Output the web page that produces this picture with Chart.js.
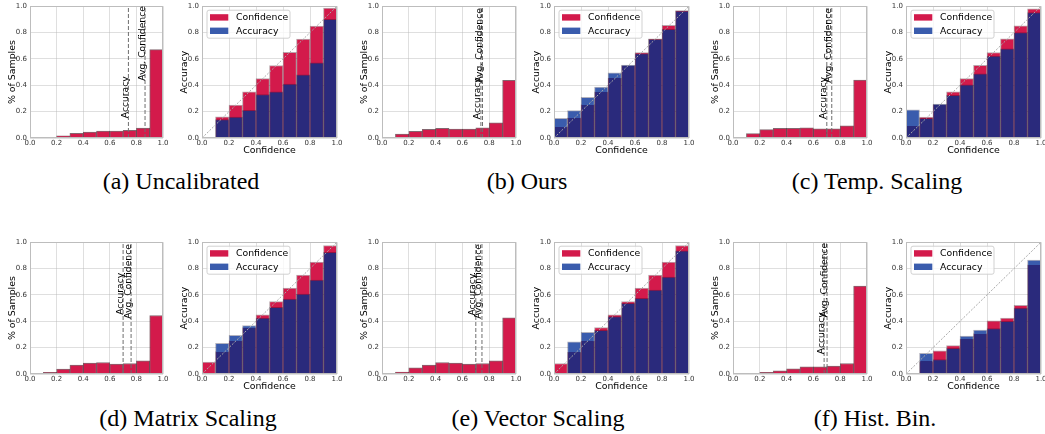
<!DOCTYPE html>
<html><head><meta charset="utf-8">
<script src="https://cdn.jsdelivr.net/npm/chart.js@4.4.1/dist/chart.umd.min.js"></script>
<style>
html,body{margin:0;padding:0;background:#fff;}
body{width:1045px;height:434px;position:relative;overflow:hidden;}
.box{position:absolute;}
.box canvas{display:block;}
.cap{position:absolute;font-family:"Liberation Serif","DejaVu Serif",serif;font-size:24px;line-height:26px;color:#000;white-space:nowrap;transform:translate(-50%,-50%);}
</style></head><body>
<script>
// ---------------- data ----------------
const binCenters = [0.05,0.15,0.25,0.35,0.45,0.55,0.65,0.75,0.85,0.95];
const tickValues = [0,0.2,0.4,0.6,0.8,1.0];
const tickLabels = ['0.0','0.2','0.4','0.6','0.8','1.0'];
const seriesNames = ['Confidence','Accuracy'];
const captions = ['(a) Uncalibrated','(b) Ours','(c) Temp. Scaling','(d) Matrix Scaling','(e) Vector Scaling','(f) Hist. Bin.'];

// (a) Uncalibrated
const samplesUncal = [0.002,0.005,0.017,0.035,0.045,0.052,0.052,0.058,0.075,0.67];
const confUncal    = [null,0.16,0.25,0.35,0.45,0.55,0.65,0.75,0.85,0.985];
const accUncal     = [null,0.14,0.158,0.21,0.33,0.35,0.41,0.48,0.57,0.90];
const meanAccUncal = 0.74, meanConfUncal = 0.865;

// (b) Ours
const samplesOurs = [0.003,0.03,0.05,0.065,0.073,0.068,0.068,0.078,0.115,0.437];
const confOurs    = [0.083,0.153,0.253,0.35,0.454,0.55,0.649,0.752,0.855,0.967];
const accOurs     = [0.15,0.208,0.308,0.386,0.494,0.553,0.64,0.748,0.825,0.963];
const meanAccOurs = 0.738, meanConfOurs = 0.75;

// (c) Temp. Scaling
const samplesTemp = [0.003,0.033,0.063,0.073,0.073,0.078,0.07,0.07,0.093,0.44];
const confTemp    = [0.09,0.158,0.253,0.351,0.451,0.551,0.649,0.752,0.852,0.98];
const accTemp     = [0.213,0.15,0.258,0.323,0.403,0.486,0.622,0.677,0.8,0.952];
const meanAccTemp = 0.70, meanConfTemp = 0.737;

// (d) Matrix Scaling
const samplesMatrix = [0,0.012,0.037,0.067,0.082,0.087,0.075,0.08,0.1,0.444];
const confMatrix    = [0.09,0.17,0.254,0.352,0.449,0.549,0.651,0.751,0.85,0.975];
const accMatrix     = [null,0.232,0.294,0.367,0.424,0.506,0.569,0.606,0.713,0.923];
const meanAccMatrix = 0.70, meanConfMatrix = 0.76;

// (e) Vector Scaling
const samplesVector = [0.002,0.015,0.047,0.067,0.087,0.082,0.075,0.08,0.1,0.426];
const confVector    = [0.08,0.165,0.249,0.352,0.449,0.549,0.651,0.751,0.85,0.975];
const accVector     = [null,0.244,0.317,0.332,0.436,0.536,0.574,0.636,0.736,0.935];
const meanAccVector = 0.70, meanConfVector = 0.746;

// (f) Hist. Bin.
const samplesHist = [0,0.002,0.012,0.025,0.04,0.055,0.055,0.06,0.08,0.668];
const confHist    = [null,0.095,0.175,0.215,0.264,0.307,0.404,0.424,0.521,0.828];
const accHist     = [null,0.157,0.11,0.194,0.287,0.334,0.344,0.399,0.501,0.865];
const meanAccHist = 0.68, meanConfHist = 0.702;

// ---------------- styling / layout ----------------
const F = '"DejaVu Sans", sans-serif';
const RED = '#d31a4b';
const LIGHTBLUE = '#3a5cad';
const NAVY = '#2a2a7c';
const PL = 30, PT = 6, PR = 8, PB = 22;

function addCanvas(left, top, w, h){
  const div = document.createElement('div');
  div.className = 'box';
  const W = w + PL + PR, H = h + PT + PB;
  div.style.left = (left - PL) + 'px';
  div.style.top = (top - PT) + 'px';
  div.style.width = W + 'px';
  div.style.height = H + 'px';
  const c = document.createElement('canvas');
  c.width = W; c.height = H;
  c.style.width = W + 'px'; c.style.height = H + 'px';
  div.appendChild(c);
  document.body.appendChild(div);
  return c;
}

function axis(titleText, isX){
  return {
    type:'linear', min:0, max:1, offset:false, z:1,
    afterBuildTicks: s => { s.ticks = tickValues.map(v => ({value:v})); },
    afterFit: s => { if (isX) s.height = PB; else s.width = PL; },
    ticks:{callback:(v,i)=>tickLabels[i], autoSkip:false, maxRotation:0, minRotation:0,
           padding: isX ? 1 : 3, color:'#333', font:{family:F, size:7}},
    grid:{color:'rgba(185,185,185,0.45)', lineWidth:1, drawTicks:false, offset:false},
    border:{display:false},
    title:{display:!!titleText, text:titleText || '', color:'#000', font:{family:F, size:9.4},
           padding: isX ? {top:0, bottom:4} : {top:7, bottom:0}}
  };
}

const framePlugin = {
  id:'frame',
  afterDraw(chart){
    const {ctx, chartArea:a} = chart;
    ctx.save();
    ctx.strokeStyle = '#bdbdbd'; ctx.lineWidth = 1;
    ctx.strokeRect(Math.round(a.left)+0.5, Math.round(a.top)+0.5, Math.round(a.width)-1, Math.round(a.height)-1);
    ctx.restore();
  }
};

const vlabelPlugin = {
  id:'vlabels',
  afterDraw(chart, args, opts){
    if (!opts.items) return;
    const {ctx} = chart;
    ctx.save();
    ctx.font = '9.2px ' + F; ctx.fillStyle = '#000';
    ctx.textAlign = 'left'; ctx.textBaseline = 'alphabetic';
    opts.items.forEach(it => {
      const x = chart.scales.x.getPixelForValue(it.x);
      const y = chart.scales.y.getPixelForValue(it.y);
      ctx.save(); ctx.translate(x - 0.5, y); ctx.rotate(-Math.PI/2);
      ctx.fillText(it.text, 0, 0); ctx.restore();
    });
    ctx.restore();
  }
};

const legendPlugin = {
  id:'boxlegend',
  afterDraw(chart){
    const {ctx, chartArea:a} = chart;
    const ds = chart.data.datasets.filter(d => d.label);
    ctx.save();
    const bx = a.left + 5, by = a.top + 4, bw = 83, bh = 28, r = 2;
    ctx.beginPath();
    ctx.moveTo(bx + r, by); ctx.lineTo(bx + bw - r, by); ctx.quadraticCurveTo(bx+bw, by, bx+bw, by+r);
    ctx.lineTo(bx+bw, by+bh-r); ctx.quadraticCurveTo(bx+bw, by+bh, bx+bw-r, by+bh);
    ctx.lineTo(bx+r, by+bh); ctx.quadraticCurveTo(bx, by+bh, bx, by+bh-r);
    ctx.lineTo(bx, by+r); ctx.quadraticCurveTo(bx, by, bx+r, by);
    ctx.closePath();
    ctx.fillStyle = 'rgba(255,255,255,0.8)'; ctx.fill();
    ctx.strokeStyle = 'rgba(204,204,204,0.9)'; ctx.lineWidth = 1; ctx.stroke();
    ctx.font = '9.3px ' + F; ctx.textBaseline = 'middle'; ctx.textAlign = 'left';
    ds.forEach((d, i) => {
      const cy = a.top + 11.2 + i * 13.4;
      ctx.fillStyle = d.legendColor;
      ctx.fillRect(a.left + 8, cy - 3.2, 18.3, 6.4);
      ctx.fillStyle = '#000';
      ctx.fillText(d.label, a.left + 34, cy + 0.5);
    });
    ctx.restore();
  }
};

function baseOptions(yTitle, xTitle, extra){
  return {
    responsive:false, animation:false, events:[],
    layout:{padding:{top:PT, right:PR, left:0, bottom:0}},
    scales:{x:axis(xTitle, true), y:axis(yTitle, false)},
    plugins:Object.assign({legend:{display:false}, tooltip:{enabled:false}}, extra || {})
  };
}

function histChart(left, top, w, h, samples, meanAcc, meanConf, accY, confY){
  const c = addCanvas(left, top, w, h);
  new Chart(c, {
    type:'bar',
    data:{datasets:[
      {type:'bar', data:binCenters.map((x,i)=>({x, y:samples[i]})), backgroundColor:RED,
       borderColor:'rgba(50,0,15,0.6)', borderWidth:1, barPercentage:1, categoryPercentage:1, order:3},
      {type:'line', data:[{x:meanAcc,y:0},{x:meanAcc,y:1}], borderColor:'#6e6e6e', borderWidth:1,
       borderDash:[4,2], pointRadius:0, order:1},
      {type:'line', data:[{x:meanConf,y:0},{x:meanConf,y:1}], borderColor:'#6e6e6e', borderWidth:1,
       borderDash:[4,2], pointRadius:0, order:1}
    ]},
    options:baseOptions('% of Samples', '', {vlabels:{items:[
      {x:meanAcc, y:accY, text:'Accuracy'},
      {x:meanConf, y:confY, text:'Avg. Confidence'}
    ]}}),
    plugins:[framePlugin, vlabelPlugin]
  });
}

// accuracy bar colour: dark where it overlaps the confidence bar, lighter above it
function accColor(conf){
  return (ctx) => {
    const chart = ctx.chart, area = chart.chartArea;
    if (!area || ctx.type !== 'data') return LIGHTBLUE;
    const yS = chart.scales.y;
    const cv = conf[ctx.dataIndex] || 0;
    const y0 = yS.getPixelForValue(0), y1 = yS.getPixelForValue(1);
    const g = chart.ctx.createLinearGradient(0, y0, 0, y1);
    const t = Math.max(0, Math.min(1, cv));
    g.addColorStop(0, NAVY); g.addColorStop(t, NAVY);
    g.addColorStop(t, LIGHTBLUE); g.addColorStop(1, LIGHTBLUE);
    return g;
  };
}

function relChart(left, top, w, h, conf, acc){
  const c = addCanvas(left, top, w, h);
  new Chart(c, {
    type:'bar',
    data:{datasets:[
      {type:'bar', label:seriesNames[0], legendColor:RED, data:binCenters.map((x,i)=>({x, y:conf[i]})), backgroundColor:RED,
       borderColor:'rgba(60,0,20,0.35)', borderWidth:1, grouped:false, barPercentage:1, categoryPercentage:1, order:3},
      {type:'bar', label:seriesNames[1], legendColor:LIGHTBLUE, data:binCenters.map((x,i)=>({x, y:acc[i]})), backgroundColor:accColor(conf),
       borderColor:'rgba(0,0,40,0.3)', borderWidth:1, grouped:false, barPercentage:1, categoryPercentage:1, order:2},
      {type:'line', data:[{x:0,y:0},{x:1,y:1}], borderColor:'#a9a9a9', borderWidth:1,
       borderDash:[2,1.5], pointRadius:0, order:1}
    ]},
    options:baseOptions('Accuracy', 'Confidence'),
    plugins:[framePlugin, legendPlugin]
  });
}

const ROW = [5, 241], H = 133;
histChart(30, ROW[0], 133, H, samplesUncal, meanAccUncal, meanConfUncal, 0.15, 0.435);
relChart(202, ROW[0], 135, H, confUncal, accUncal);
histChart(382, ROW[0], 134, H, samplesOurs, meanAccOurs, meanConfOurs, 0.143, 0.42);
relChart(554, ROW[0], 135, H, confOurs, accOurs);
histChart(733, ROW[0], 134, H, samplesTemp, meanAccTemp, meanConfTemp, 0.145, 0.42);
relChart(906, ROW[0], 135, H, confTemp, accTemp);

histChart(30, ROW[1], 133, H, samplesMatrix, meanAccMatrix, meanConfMatrix, 0.449, 0.42);
relChart(202, ROW[1], 135, H, confMatrix, accMatrix);
histChart(382, ROW[1], 134, H, samplesVector, meanAccVector, meanConfVector, 0.443, 0.42);
relChart(554, ROW[1], 135, H, confVector, accVector);
histChart(733, ROW[1], 134, H, samplesHist, meanAccHist, meanConfHist, 0.15, 0.43);
relChart(906, ROW[1], 135, H, confHist, accHist);

const capPos = [[181,181],[527,181],[877,181],[188,418],[538,418],[875,418]];
captions.forEach((t, i) => {
  const d = document.createElement('div');
  d.className = 'cap'; d.textContent = t;
  d.style.left = capPos[i][0] + 'px'; d.style.top = capPos[i][1] + 'px';
  document.body.appendChild(d);
});
</script>
</body></html>
